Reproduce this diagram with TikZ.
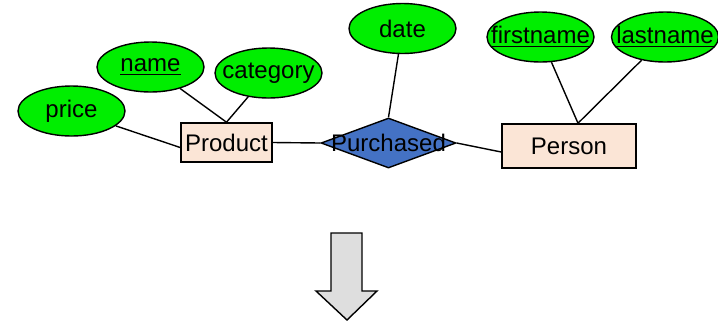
\documentclass[tikz,border=0pt]{standalone}
\usepackage{fontspec}
\setmainfont{Liberation Sans}
\usetikzlibrary{calc,shapes,arrows.meta}

\definecolor{attrgreen}{RGB}{0,238,0}
\definecolor{entityfill}{RGB}{251,229,214}
\definecolor{relblue}{RGB}{68,114,196}
\definecolor{arrowgray}{RGB}{222,222,222}

\begin{document}
\begin{tikzpicture}[x=0.5pt,y=-0.5pt,
  every node/.style={font=\fontsize{12}{14}\selectfont},
  every label/.style={font=\fontsize{12}{14}\selectfont,inner sep=0pt},
  attr/.style={ellipse,draw,line width=0.7pt,fill=attrgreen,inner sep=0pt,
    minimum width=53.5pt,minimum height=25pt},
  entity/.style={rectangle,draw,line width=0.8pt,fill=entityfill,inner sep=0pt},
  rel/.style={diamond,draw,line width=0.7pt,fill=relblue,inner sep=0pt,
    minimum width=67.5pt,minimum height=25pt},
  link/.style={line width=0.7pt}]
  \useasboundingbox (0,0) rectangle (718,323);

  %% Entities and the relationship
  \node[entity,minimum width=45.5pt,minimum height=19.5pt] (product) at (226.5,142.5) {Product};
  \node[entity,minimum width=67pt,minimum height=22pt] (person) at (569,146) {Person};
  \node[rel,label=center:Purchased] (purchased) at (388.5,143) {};
  \coordinate (pertop) at ($(person.north)+(9,0)$);

  %% Attributes (text as centre labels so the ellipses keep their size)
  \foreach \nm/\txt/\x/\y in {price/price/71.5/111,
                              name/\underline{name}/150.5/67,
                              category/category/268.5/73,
                              date/date/402.5/28.5,
                              firstname/\underline{firstname}/540.5/37,
                              lastname/\underline{lastname}/665/37}
  {
    \node[attr,label=center:{\txt}] (\nm) at (\x,\y) {};
  }

  %% Connectors
  \foreach \a/\b in {name/product.north, category/product.north,
                     date/purchased.north, firstname/pertop, lastname/pertop}
  {
    \draw[link] (\a) -- (\b);
  }
  \draw[link] (price) -- ($(product.west)+(0,5)$);
  \draw[link] (product.east) -- (purchased.west);
  \draw[link] (purchased.east) -- ($(person.west)+(0,6)$);

  %% Block arrow below
  \draw[line width=0.7pt,fill=arrowgray] (331,233) -- (362,233) -- (362,291) -- (377,291)
    -- (347,320) -- (316,291) -- (331,291) -- cycle;
\end{tikzpicture}
\end{document}
